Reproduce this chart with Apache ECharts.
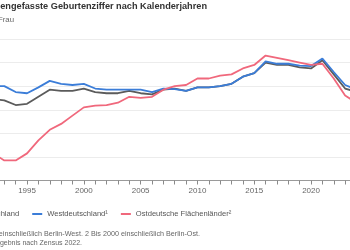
<!DOCTYPE html>
<html>
<head>
<meta charset="utf-8">
<script src="https://cdn.jsdelivr.net/npm/echarts@6/dist/echarts.min.js"></script>
<style>html,body{margin:0;padding:0;background:#fff}#c{width:350px;height:250px}</style>
</head>
<body>
<div id="c"></div>
<script>
const years = [1990,1991,1992,1993,1994,1995,1996,1997,1998,1999,2000,2001,2002,2003,2004,2005,2006,2007,2008,2009,2010,2011,2012,2013,2014,2015,2016,2017,2018,2019,2020,2021,2022,2023,2024];
const deutschland = [1.45,1.33,1.29,1.28,1.24,1.25,1.31,1.37,1.36,1.36,1.38,1.35,1.34,1.34,1.36,1.34,1.33,1.37,1.38,1.36,1.39,1.39,1.40,1.42,1.48,1.51,1.60,1.58,1.58,1.56,1.55,1.62,1.50,1.38,1.35];
const west = [1.45,1.42,1.40,1.40,1.35,1.34,1.39,1.445,1.42,1.41,1.42,1.38,1.37,1.37,1.37,1.37,1.35,1.38,1.375,1.36,1.39,1.39,1.40,1.42,1.48,1.51,1.61,1.59,1.59,1.575,1.57,1.635,1.52,1.41,1.37];
const ost = [1.52,0.98,0.83,0.77,0.77,0.83,0.94,1.03,1.08,1.15,1.22,1.235,1.24,1.26,1.31,1.30,1.31,1.37,1.40,1.41,1.465,1.465,1.49,1.50,1.55,1.58,1.66,1.64,1.62,1.60,1.58,1.59,1.465,1.32,1.26];
const tickYears = [1993,1994,1995,1996,1997,1998,1999,2000,2001,2002,2003,2004,2005,2006,2007,2008,2009,2010,2011,2012,2013,2014,2015,2016,2017,2018,2019,2020,2021,2022,2023];
const labelYears = [1995,2000,2005,2010,2015,2020];
const seriesNames = ['Deutschland','Westdeutschland¹','Ostdeutsche Flächenländer²'];
const colors = ['#5b5b5b','#3b7dd8','#f0687c'];
const title = 'Zusammengefasste Geburtenziffer nach Kalenderjahren';
const subtitle = 'Kinder je Frau';
const foot1 = '1 Bis 2000 einschließlich Berlin-West. 2 Bis 2000 einschließlich Berlin-Ost.';
const foot2 = 'Ergebnis nach Zensus 2022.';

const font = '"Liberation Sans", Arial, sans-serif';
const pairs = arr => years.map((y,i)=>[y,arr[i]]);
const chart = echarts.init(document.getElementById('c'), null, {renderer:'canvas'});
chart.setOption({
  animation:false,
  color: colors,
  textStyle:{fontFamily:font},
  grid:{left:0, right:0, top:39, bottom:69.5, containLabel:false},
  xAxis:{type:'value', min:1992.62, max:2023.43,
    axisLine:{lineStyle:{color:'#9a9a9a', width:1}},
    axisTick:{show:true, length:4, customValues:tickYears, lineStyle:{color:'#8a8a8a'}},
    axisLabel:{fontSize:8, color:'#666', margin:6, fontFamily:font, customValues:labelYears,
      formatter:v => String(v)},
    splitLine:{show:false}},
  yAxis:{type:'value', min:0.6, max:1.8, interval:0.2,
    axisLabel:{show:false}, axisLine:{show:false}, axisTick:{show:false},
    splitLine:{lineStyle:{color:'#ececec', width:1}}},
  legend:{left:-43, top:205, itemWidth:10, itemHeight:2, itemGap:13, icon:'rect',
    textStyle:{fontSize:7.6, color:'#555', fontFamily:font},
    data: seriesNames},
  series:[
    {name:seriesNames[0], type:'line', data:pairs(deutschland), symbol:'none', lineStyle:{width:1.8}, z:2, clip:true},
    {name:seriesNames[1], type:'line', data:pairs(west), symbol:'none', lineStyle:{width:1.8}, z:3, clip:true},
    {name:seriesNames[2], type:'line', data:pairs(ost), symbol:'none', lineStyle:{width:1.8}, z:4, clip:true}
  ],
  graphic:[
    {type:'text', right: 143, top:2, style:{text:title, font:'bold 9.2px '+font, fill:'#333'}},
    {type:'text', right: 336, top:16, style:{text:subtitle, font:'7.8px '+font, fill:'#666'}},
    {type:'text', right: 150, top:231, style:{text:foot1, font:'7.2px '+font, fill:'#666'}},
    {type:'text', right: 268, top:240, style:{text:foot2, font:'7px '+font, fill:'#666'}}
  ]
});
</script>
</body>
</html>
